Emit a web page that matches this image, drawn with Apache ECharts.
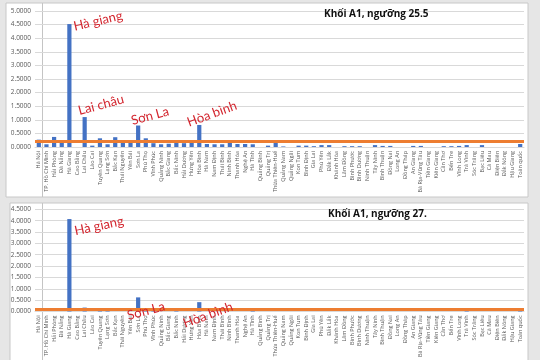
<!DOCTYPE html>
<html><head><meta charset="utf-8">
<script src="https://cdn.jsdelivr.net/npm/echarts@6/dist/echarts.min.js"></script>
<style>html,body{margin:0;padding:0;background:#e6e6e6}#c{width:540px;height:360px}</style>
</head><body><div id="c"></div>
<script>
const categories = ["Hà Nội","TP. Hồ Chí Minh","Hải Phòng","Đà Nẵng","Hà Giang","Cao Bằng","Lai Châu","Lào Cai","Tuyên Quang","Lạng Sơn","Bắc Kạn","Thái Nguyên","Yên Bái","Sơn La","Phú Thọ","Vĩnh Phúc","Quảng Ninh","Bắc Giang","Bắc Ninh","Hải Dương","Hưng Yên","Hòa Bình","Hà Nam","Nam Định","Thái Bình","Ninh Bình","Thanh Hóa","Nghệ An","Hà Tĩnh","Quảng Bình","Quảng Trị","Thừa Thiên-Huế","Quảng Nam","Quảng Ngãi","Kon Tum","Bình Định","Gia Lai","Phú Yên","Đắk Lắk","Khánh Hòa","Lâm Đồng","Bình Phước","Bình Dương","Ninh Thuận","Tây Ninh","Bình Thuận","Đồng Nai","Long An","Đồng Tháp","An Giang","Bà Rịa-Vũng Tàu","Tiền Giang","Kiên Giang","Cần Thơ","Bến Tre","Vĩnh Long","Trà Vinh","Sóc Trăng","Bạc Liêu","Cà Mau","Điện Biên","Đắk Nông","Hậu Giang","Toàn quốc"];

const valuesA1_255 = [0.27,0.10,0.37,0.16,4.52,0,1.10,0.05,0.32,0.10,0.36,0.16,0.16,0.79,0.32,0.14,0.10,0.12,0.17,0.14,0.15,0.81,0.11,0.10,0.10,0.15,0.11,0.11,0.10,0,0.05,0.15,0.02,0,0.05,0.05,0.03,0.07,0.07,0,0.03,0.03,0.03,0,0.07,0.04,0.04,0,0,0.04,0.04,0,0,0.03,0.03,0.04,0.07,0,0.07,0,0,0,0,0.11];

const valuesA1_27 = [0,0,0,0,4.07,0,0.17,0,0.05,0.05,0,0,0,0.62,0.10,0.10,0,0,0.05,0,0,0.41,0,0,0,0,0,0,0.04,0,0,0,0,0,0,0,0,0,0,0,0,0,0,0,0,0,0,0,0,0,0,0,0,0,0,0,0.04,0,0,0,0,0,0,0.04];

const thresholdValues = [0.2, 0.09];
const chartTitles = ["Khối A1, ngưỡng 25.5", "Khối A1, ngưỡng 27."];
const yMaxValues = [5, 4.5];
const yInterval = 0.5;

const chart = echarts.init(document.getElementById('c'));
const labelColor = '#595959';
const gridColor = '#d9d9d9';
const font = 'Open Sans';

function xAxisFor(i){
  return {type:'category', gridIndex:i, data:categories,
    axisTick:{show:false},
    axisLine:{lineStyle:{color:gridColor}},
    axisLabel:{rotate:90, interval:0, fontSize:5.5, color:labelColor, margin:4, fontFamily:font}};
}
function yAxisFor(i){
  return {type:'value', gridIndex:i, min:0, max:yMaxValues[i], interval:yInterval,
    axisLine:{show:false}, axisTick:{show:false},
    splitLine:{lineStyle:{color:gridColor, width:1}},
    axisLabel:{formatter:v=>v.toFixed(4), fontSize:6.5, color:labelColor, margin:4, fontFamily:font}};
}
function seriesFor(i, vals){
  return {type:'bar', xAxisIndex:i, yAxisIndex:i, data:vals, barWidth:'55%',
    itemStyle:{color:'#4472c4'},
    markLine:{silent:true, symbol:'none', label:{show:false},
      lineStyle:{color:'#ed7d31', width:3, type:'solid'},
      data:[{yAxis:thresholdValues[i]}]}};
}
const red = '#d3262f';
function note(text, x, y, deg){
  return {type:'text', x:x, y:y, rotation:deg*Math.PI/180, z:100,
    style:{text:text, fill:red, font:'13px Lato', align:'center', verticalAlign:'middle'}};
}

chart.setOption({
  animation:false,
  backgroundColor:'#e6e6e6',
  title:[
    {text:chartTitles[0], left:324, top:9, padding:0, textStyle:{fontSize:10, fontWeight:'bold', color:'#111', fontFamily:font}},
    {text:chartTitles[1], left:328, top:209, padding:0, textStyle:{fontSize:10, fontWeight:'bold', color:'#111', fontFamily:font}}
  ],
  grid:[
    {left:35, right:16, top:11, height:136},
    {left:35, right:16, top:209.3, height:131.4}
  ],
  xAxis:[xAxisFor(0), xAxisFor(1)],
  yAxis:[yAxisFor(0), yAxisFor(1)],
  series:[seriesFor(0, valuesA1_255), seriesFor(1, valuesA1_27)],
  graphic:[
    {type:'rect', z:-1, shape:{x:6, y:3, width:522, height:194}, style:{fill:'#fff', stroke:'#c8c8c8', lineWidth:1}},
    {type:'rect', z:-1, shape:{x:10, y:203, width:518, height:162}, style:{fill:'#fff', stroke:'#c8c8c8', lineWidth:1}},
    {type:'line', z:-1, shape:{x1:42.5, y1:3, x2:42.5, y2:197}, style:{stroke:'#c4c4c4', lineWidth:1}},
    {type:'line', z:-1, shape:{x1:42.5, y1:203, x2:42.5, y2:360}, style:{stroke:'#c4c4c4', lineWidth:1}},
    note('Hà giang', 98, 21, 13),
    note('Lai châu', 101, 105, 15),
    note('Sơn La', 150, 116, 15),
    note('Hòa bình', 212, 114, 20),
    note('Hà giang', 99, 226, 12),
    note('Sơn La', 146, 311, 15),
    note('Hòa bình', 208, 315, 20)
  ]
});
</script></body></html>
